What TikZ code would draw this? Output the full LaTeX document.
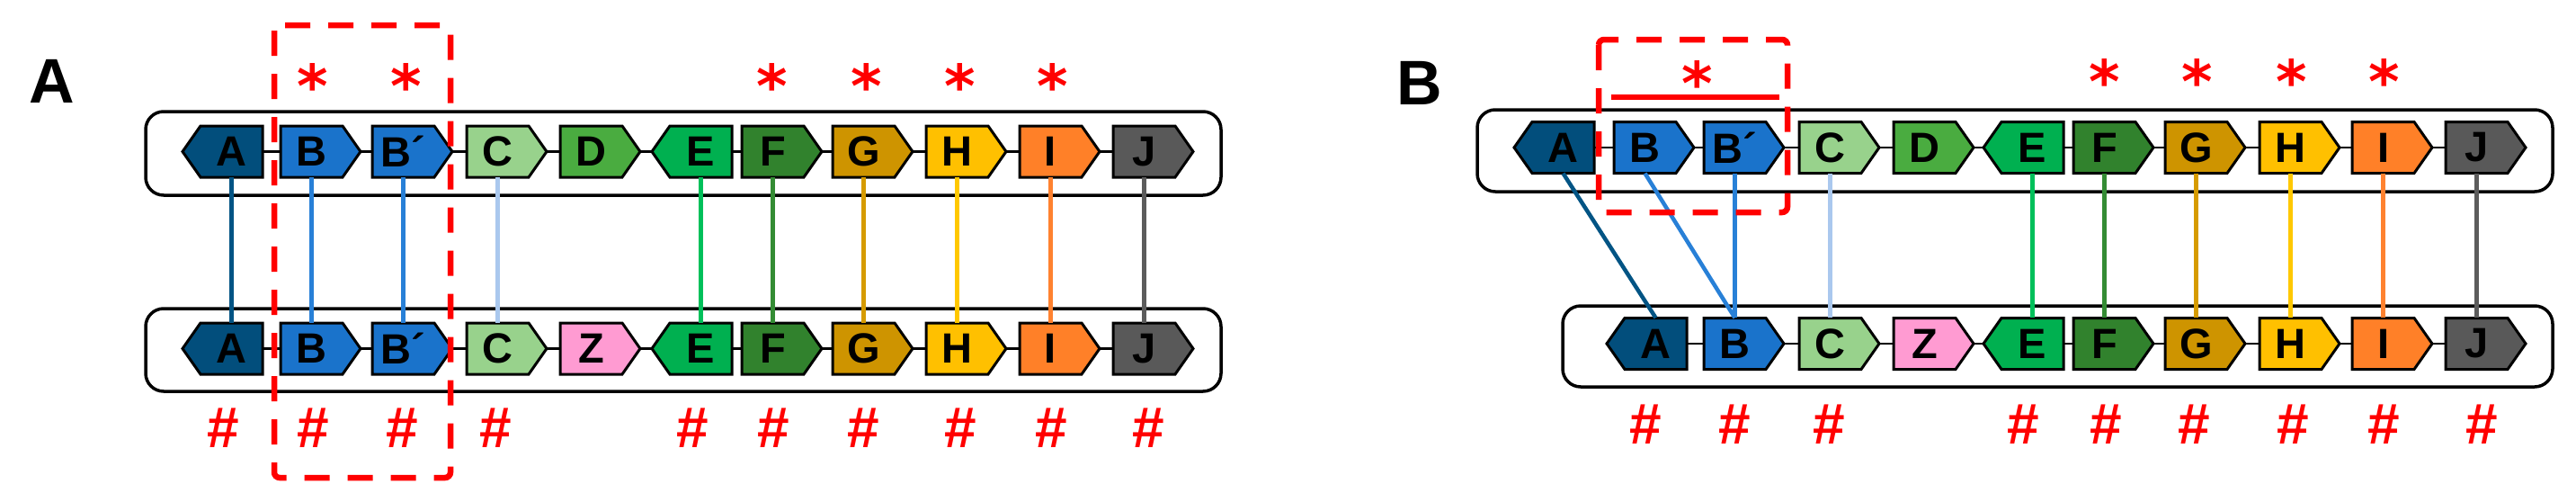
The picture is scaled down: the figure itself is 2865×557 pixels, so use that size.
\documentclass[tikz,border=0pt]{standalone}
\usepackage{fontspec}
\setmainfont{Liberation Sans}
\newfontfamily\starfont{DejaVu Sans}
\pgfdeclarelayer{background}
\pgfsetlayers{background,main}
\definecolor{cA}{RGB}{2,78,124}
\definecolor{cB}{RGB}{26,115,203}
\definecolor{cC}{RGB}{152,210,140}
\definecolor{cD}{RGB}{74,172,64}
\definecolor{cE}{RGB}{0,176,80}
\definecolor{cF}{RGB}{49,130,45}
\definecolor{cG}{RGB}{206,148,0}
\definecolor{cH}{RGB}{255,192,0}
\definecolor{cI}{RGB}{255,128,40}
\definecolor{cJ}{RGB}{89,89,89}
\definecolor{cZ}{RGB}{255,155,210}
\definecolor{lA}{RGB}{2,84,132}
\definecolor{lB}{RGB}{40,128,215}
\definecolor{lC}{RGB}{170,200,238}
\definecolor{lE}{RGB}{0,192,90}
\definecolor{lF}{RGB}{52,140,52}
\definecolor{lG}{RGB}{214,155,0}
\definecolor{lH}{RGB}{255,200,0}
\definecolor{lI}{RGB}{255,130,48}
\definecolor{lJ}{RGB}{92,92,92}
\definecolor{myred}{RGB}{255,0,0}
\tikzset{
  genebox/.style={draw=black, line width=3, line join=miter},
  genelabel/.style={font=\fontsize{47}{47}\selectfont\bfseries, inner sep=0, minimum width=69, minimum height=57, text=black},
  trackbox/.style={draw=black, line width=3.5, rounded corners=20, inner sep=0},
  backbone/.style={draw=black, line width=2.5},
  conn/.style={line width=4.5},
  dashbox/.style={draw=myred, line width=6.5, dash pattern=on 28 off 20, rounded corners=6},
  starmark/.style={text=myred, font=\starfont\fontsize{66}{66}\selectfont\bfseries, inner sep=0},
  hashmark/.style={text=myred, font=\fontsize{64}{64}\selectfont\bfseries, inner sep=0},
  panellabel/.style={font=\fontsize{70}{70}\selectfont\bfseries, inner sep=0}
}
% name, left x, centre y, fill, label
\newcommand\geneR[5]{%
  \draw[genebox,fill=#4] ({#2},{#3-28.5}) -- ++(69,0) -- ++(20,28.5) -- ++(-20,28.5) -- ++(-69,0) -- cycle;
  \node[genelabel] (#1) at ({#2+34.5},{#3}) {#5};
}
\newcommand\geneL[5]{%
  \draw[genebox,fill=#4] ({#2+89},{#3-28.5}) -- ++(-69,0) -- ++(-20,28.5) -- ++(20,28.5) -- ++(69,0) -- cycle;
  \node[genelabel] (#1) at ({#2+54.5},{#3}) {#5};
}
\begin{document}
\begin{tikzpicture}[x=1pt,y=-1pt]
\useasboundingbox (0,0) rectangle (2865,557);
% ---------------- Panel A ----------------
\node[panellabel] (labA) at (58,90) {A};
\node[trackbox, minimum width=1196, minimum height=93] (boxAt) at (760,170.5) {};
\node[trackbox, minimum width=1196, minimum height=92] (boxAb) at (760,389) {};
% top row
\geneL{atA}{203}{168.5}{cA}{A}
\geneR{atB}{312}{168.5}{cB}{B}
\geneR{atBp}{414}{168.5}{cB}{B´}
\geneR{atC}{519}{168.5}{cC}{C}
\geneR{atD}{623}{168.5}{cD}{D}
\geneL{atE}{725}{168.5}{cE}{E}
\geneR{atF}{825}{168.5}{cF}{F}
\geneR{atG}{926}{168.5}{cG}{G}
\geneR{atH}{1030}{168.5}{cH}{H}
\geneR{atI}{1134}{168.5}{cI}{I}
\geneR{atJ}{1238}{168.5}{cJ}{J}
% bottom row
\geneL{abA}{203}{387.5}{cA}{A}
\geneR{abB}{312}{387.5}{cB}{B}
\geneR{abBp}{414}{387.5}{cB}{B´}
\geneR{abC}{519}{387.5}{cC}{C}
\geneR{abZ}{623}{387.5}{cZ}{Z}
\geneL{abE}{725}{387.5}{cE}{E}
\geneR{abF}{825}{387.5}{cF}{F}
\geneR{abG}{926}{387.5}{cG}{G}
\geneR{abH}{1030}{387.5}{cH}{H}
\geneR{abI}{1134}{387.5}{cI}{I}
\geneR{abJ}{1238}{387.5}{cJ}{J}
\begin{pgfonlayer}{background}
  \draw[backbone] (atA.center) -- (atJ.center);
  \draw[backbone] (abA.center) -- (abJ.center);
\end{pgfonlayer}
\draw[conn,lA] (atA.south) -- (abA.north);
\draw[conn,lB] (atB.south) -- (abB.north);
\draw[conn,lB] (atBp.south) -- (abBp.north);
\draw[conn,lC] (atC.south) -- (abC.north);
\draw[conn,lE] (atE.south) -- (abE.north);
\draw[conn,lF] (atF.south) -- (abF.north);
\draw[conn,lG] (atG.south) -- (abG.north);
\draw[conn,lH] (atH.south) -- (abH.north);
\draw[conn,lI] (atI.south) -- (abI.north);
\draw[conn,lJ] (atJ.south) -- (abJ.north);
% stars
\foreach \x/\n in {348/1,452/2,859/3,964/4,1068/5,1171/6}
  \node[starmark] (sA\n) at (\x,95) {*};
% hashes
\foreach \x/\n in {248/1,348/2,447/3,551/4,770/5,860/6,960/7,1068/8,1169/9,1277/10}
  \node[hashmark] (hA\n) at (\x,476) {\#};
\draw[dashbox] (305,28) rectangle (501,531);
% ---------------- Panel B ----------------
\node[panellabel] (labB) at (1579,92) {B};
\node[trackbox, minimum width=1196, minimum height=91] (boxBt) at (2241,167.5) {};
\node[trackbox, minimum width=1101, minimum height=90] (boxBb) at (2288.5,385) {};
\geneL{btA}{1684}{164}{cA}{A}
\geneR{btB}{1795}{164}{cB}{B}
\geneR{btBp}{1895}{164}{cB}{B´}
\geneR{btC}{2001}{164}{cC}{C}
\geneR{btD}{2106}{164}{cD}{D}
\geneL{btE}{2206}{164}{cE}{E}
\geneR{btF}{2306}{164}{cF}{F}
\geneR{btG}{2408}{164}{cG}{G}
\geneR{btH}{2513}{164}{cH}{H}
\geneR{btI}{2616}{164}{cI}{I}
\geneR{btJ}{2720}{164}{cJ}{J}
\geneL{bbA}{1787}{382}{cA}{A}
\geneR{bbB}{1895}{382}{cB}{B}
\geneR{bbC}{2001}{382}{cC}{C}
\geneR{bbZ}{2106}{382}{cZ}{Z}
\geneL{bbE}{2206}{382}{cE}{E}
\geneR{bbF}{2306}{382}{cF}{F}
\geneR{bbG}{2408}{382}{cG}{G}
\geneR{bbH}{2513}{382}{cH}{H}
\geneR{bbI}{2616}{382}{cI}{I}
\geneR{bbJ}{2720}{382}{cJ}{J}
\begin{pgfonlayer}{background}
  \draw[backbone] (btA.center) -- (btJ.center);
  \draw[backbone] (bbA.center) -- (bbJ.center);
\end{pgfonlayer}
\draw[conn,lA] (btA.south) -- (bbA.north);
\draw[conn,lB] (btB.south) -- (bbB.north);
\draw[conn,lB] (btBp.south) -- (bbB.north);
\draw[conn,lC] (btC.south) -- (bbC.north);
\draw[conn,lE] (btE.south) -- (bbE.north);
\draw[conn,lF] (btF.south) -- (bbF.north);
\draw[conn,lG] (btG.south) -- (bbG.north);
\draw[conn,lH] (btH.south) -- (bbH.north);
\draw[conn,lI] (btI.south) -- (bbI.north);
\draw[conn,lJ] (btJ.south) -- (bbJ.north);
\node[starmark] (sB0) at (1888,92) {*};
\foreach \x/\n in {2341/1,2444/2,2549/3,2652/4}
  \node[starmark] (sB\n) at (\x,90) {*};
\foreach \x/\n in {1830/1,1929/2,2034/3,2250/4,2342/5,2440/6,2550/7,2651/8,2760/9}
  \node[hashmark] (hB\n) at (\x,472) {\#};
\draw[myred, line width=6] (1792,108) -- (1979,108);
\draw[dashbox] (1778,44) rectangle (1988,236);
\end{tikzpicture}
\end{document}
